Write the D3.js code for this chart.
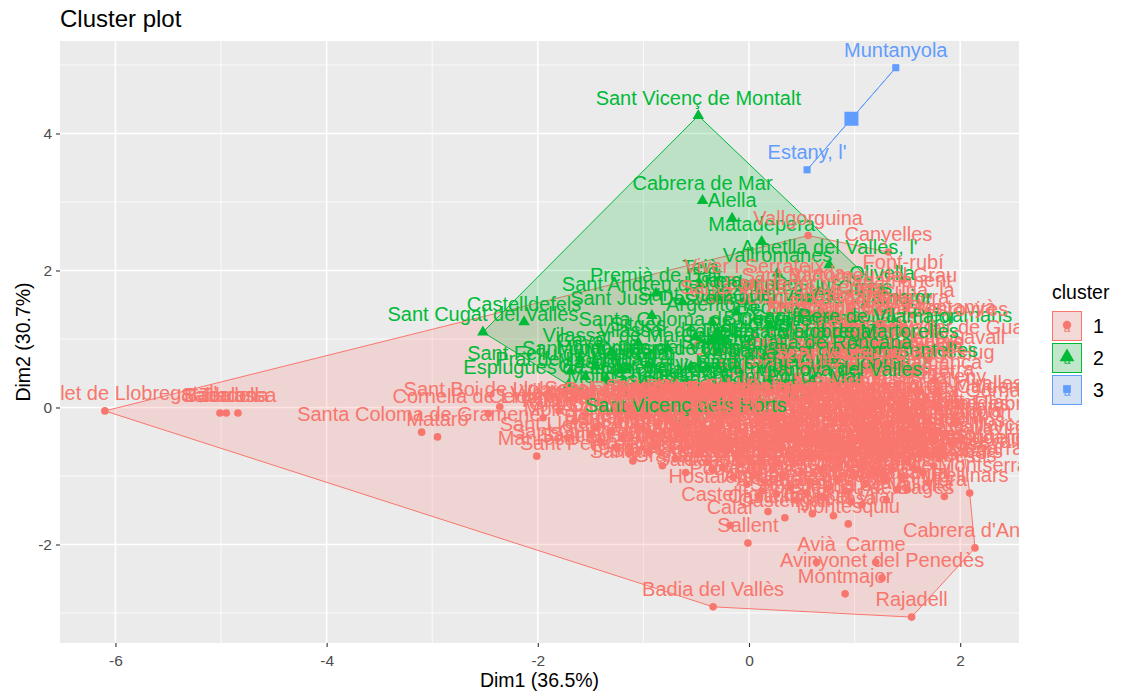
<!DOCTYPE html>
<html>
<head>
<meta charset="utf-8">
<script src="https://cdn.jsdelivr.net/npm/d3@7"></script>
<style>
  body { margin: 0; background: #ffffff; }
  svg { display: block; font-family: "Liberation Sans", Arial, sans-serif; }
</style>
</head>
<body>
<svg id="chart" width="1121" height="697"></svg>
<script>
// Municipalities projected on the first two principal dimensions, by k-means cluster.
// Each entry: [municipality, Dim1, Dim2]
const cluster1 = [
  ["Hospitalet de Llobregat, l'", -6.10, -0.05],
  ["Sabadell", -5.01, -0.08],
  ["Badalona", -4.95, -0.08],
  ["Terrassa", -4.84, -0.08],
  ["Santa Coloma de Gramenet", -3.10, -0.36],
  ["Mataró", -2.95, -0.43],
  ["Cornellà de Llobregat", -2.47, -0.09],
  ["Sant Boi de Llobregat", -2.36, 0.01],
  ["Manresa", -2.01, -0.71],
  ["Sant Adrià de Besòs", -1.12, -0.66],
  ["Santa Perpètua de Mogoda", -0.35, -0.90],
  ["Vallgorguina", 0.56, 2.51],
  ["Canyelles", 1.32, 2.27],
  ["Font-rubí", 1.46, 1.86],
  ["Sant Bartomeu del Grau", 0.95, 1.67],
  ["Llacuna, la", 1.49, 1.45],
  ["Sant Esteve Sesrovires", 1.47, 1.18],
  ["Sant Salvador de Guardiola", 1.90, 0.91],
  ["Sant Llorenç Savall", 1.61, 0.77],
  ["Castellet i la Gornal", 1.79, -0.01],
  ["Torre de Claramunt, la", 1.48, -0.18],
  ["Santa Maria d'Oló", 1.43, -0.33],
  ["Sant Feliu de Codines", 1.16, -0.52],
  ["Rellinars", 2.09, -1.25],
  ["Cabrera d'Anoia", 2.14, -2.05],
  ["Rajadell", 1.54, -3.06],
  ["Badia del Vallès", -0.34, -2.91],
  ["Avinyonet del Penedès", 1.26, -2.49],
  ["Carme", 1.20, -2.26],
  ["Avià", 0.64, -2.26],
  ["Montmajor", 0.91, -2.72],
  ["Sallent", -0.01, -1.98],
  ["Calaf", -0.18, -1.72],
  ["Montesquiu", 0.94, -1.70],
  ["Hostalets de Pierola, els", 0.26, -1.26],
  ["Sant Cebrià de Vallalta", 0.97, -1.38],
  ["Rubí", -1.95, -0.15],
  ["Viladecans", -1.80, -0.05],
  ["Granollers", -1.65, -0.20],
  ["Cerdanyola del Vallès", -1.55, -0.10],
  ["Mollet del Vallès", -1.45, -0.28],
  ["Vilanova i la Geltrú", -1.38, -0.02],
  ["Igualada", -1.30, -0.35],
  ["Vic", -1.22, -0.18],
  ["Montcada i Reixac", -1.15, -0.05],
  ["Ripollet", -1.05, -0.30],
  ["Barberà del Vallès", -0.98, -0.12],
  ["Martorell", -0.92, -0.40],
  ["Olesa de Montserrat", -0.85, -0.22],
  ["Esparreguera", -0.78, 0.00],
  ["Sant Andreu de la Barca", -0.72, -0.48],
  ["Pineda de Mar", -0.66, -0.30],
  ["Calella", -0.58, -0.55],
  ["Malgrat de Mar", -0.52, -0.20],
  ["Manlleu", -0.45, -0.38],
  ["Vilafranca del Penedès", -0.40, -0.05],
  ["Sant Pere de Ribes", -0.33, -0.62],
  ["Sant Joan de Vilatorrada", -0.28, -0.28],
  ["Sant Sadurní d'Anoia", -0.22, -0.45],
  ["Sant Vicenç de Castellet", -0.15, -0.12],
  ["Sant Celoni", -0.10, -0.70],
  ["Torelló", -0.05, -0.35],
  ["Canovelles", 0.02, -0.55],
  ["Franqueses del Vallès, les", 0.08, -0.20],
  ["Llagosta, la", 0.12, -0.75],
  ["Montmeló", 0.18, -0.40],
  ["Roca del Vallès, la", 0.24, -0.08],
  ["Garriga, la", 0.30, -0.60],
  ["Caldes de Montbui", 0.35, -0.30],
  ["Lliçà de Vall", 0.42, -0.82],
  ["Polinyà", 0.48, -0.15],
  ["Pallejà", 0.54, -0.50],
  ["Abrera", 0.60, -0.25],
  ["Palafolls", 0.66, -0.70],
  ["Tordera", 0.72, -0.05],
  ["Santa Susanna", 0.78, -0.42],
  ["Canet de Mar", 0.84, -0.85],
  ["Arenys de Mar", 0.90, -0.20],
  ["Sant Iscle de Vallalta", 0.96, -0.60],
  ["Cubelles", 1.02, -0.32],
  ["Gelida", 1.08, -0.78],
  ["Subirats", 1.14, -0.10],
  ["Santa Margarida i els Monjos", 1.20, -0.45],
  ["Sant Martí Sarroca", 1.26, -0.70],
  ["Olèrdola", 1.32, -0.25],
  ["Mediona", 1.38, -0.55],
  ["Torrelavit", 1.44, -0.05],
  ["Pacs del Penedès", 1.50, -0.80],
  ["Puigdàlber", 1.56, -0.40],
  ["Pontons", 1.62, -0.65],
  ["Vilobí del Penedès", 1.68, -0.20],
  ["Castellví de la Marca", 1.74, -0.50],
  ["Olesa de Bonesvalls", 1.80, -0.75],
  ["Sant Llorenç d'Hortons", -1.40, -0.50],
  ["Sant Quintí de Mediona", -1.25, -0.60],
  ["Sant Pere de Riudebitlles", -1.10, -0.78],
  ["Santa Fe del Penedès", -0.95, -0.65],
  ["Torrelles de Foix", -0.82, -0.85],
  ["Pla del Penedès, el", -0.70, -0.75],
  ["Granada, la", -0.60, -0.95],
  ["Cabanyes, les", -0.48, -0.68],
  ["Sant Cugat Sesgarrigues", -0.25, -0.88],
  ["Capellades", -0.15, -1.02],
  ["Masquefa", -0.08, -0.82],
  ["Piera", 0.05, -0.98],
  ["Òdena", 0.15, -1.10],
  ["Vilanova del Camí", 0.22, -0.90],
  ["Santa Margarida de Montbui", 0.32, -1.02],
  ["Pobla de Claramunt, la", 0.40, -1.15],
  ["Castellolí", 0.50, -0.95],
  ["Bruc, el", 0.58, -1.08],
  ["Collbató", 0.68, -0.92],
  ["Jorba", 0.75, -1.18],
  ["Argençola", 0.85, -1.05],
  ["Copons", 0.92, -1.22],
  ["Rubió", 1.00, -0.98],
  ["Orpí", 1.10, -1.12],
  ["Sant Martí de Tous", 1.18, -0.92],
  ["Bellprat", 1.28, -1.05],
  ["Montmaneu", 1.36, -0.90],
  ["Pujalt", 1.45, -1.00],
  ["Veciana", 1.55, -0.88],
  ["Prats de Rei, els", 1.65, -0.95],
  ["Calonge de Segarra", 1.75, -0.85],
  ["Sant Martí Sesgueioles", 1.85, -0.70],
  ["Sant Pere Sallavinera", 1.92, -0.55],
  ["Vallbona d'Anoia", 1.70, -0.30],
  ["Castellfollit de Riubregós", 1.95, -0.20],
  ["Santa Maria de Miralles", 1.60, 0.10],
  ["Aguilar de Segarra", 0.55, -1.25],
  ["Artés", 0.10, -1.30],
  ["Avinyó", 0.45, -1.35],
  ["Balsareny", 0.70, -1.30],
  ["Callús", 0.12, -1.22],
  ["Cardona", -0.02, -1.12],
  ["Castellbell i el Vilar", 0.60, -1.55],
  ["Castellfollit del Boix", 0.18, -1.52],
  ["Castellgalí", 0.34, -1.61],
  ["Castellnou de Bages", 1.07, -1.42],
  ["Fonollosa", 0.80, -1.58],
  ["Gaià", 1.30, -1.35],
  ["Marganell", 1.50, -1.20],
  ["Monistrol de Montserrat", 1.70, -1.10],
  ["Mura", 1.85, -1.30],
  ["Navarcles", -0.50, -0.15],
  ["Navàs", -0.70, -0.25],
  ["Pont de Vilomara i Rocafort, el", 0.02, 0.02],
  ["Sant Feliu Sasserra", 1.30, 0.30],
  ["Sant Fruitós de Bages", -1.00, 0.02],
  ["Sant Mateu de Bages", 1.15, 0.55],
  ["Santpedor", 0.20, 1.55],
  ["Súria", -1.20, -0.45],
  ["Talamanca", 1.75, 0.40],
  ["Bagà", 1.10, 0.15],
  ["Berga", -1.50, -0.40],
  ["Borredà", 1.40, 0.35],
  ["Capolat", 1.65, -0.10],
  ["Casserres", 0.55, 0.10],
  ["Castell de l'Areny", 1.25, 0.05],
  ["Castellar de n'Hug", 1.55, 0.55],
  ["Castellar del Riu", 1.35, 0.75],
  ["Cercs", 0.90, 0.20],
  ["Espunyola, l'", 1.45, -0.70],
  ["Fígols", 1.20, 0.45],
  ["Gironella", -0.90, -0.55],
  ["Gisclareny", 1.80, 0.20],
  ["Gósol", 1.05, 0.40],
  ["Guardiola de Berguedà", 0.70, 0.25],
  ["Montclar", 1.60, -0.30],
  ["Nou de Berguedà, la", 0.95, 0.60],
  ["Olvan", 0.40, 0.30],
  ["Pobla de Lillet, la", 0.75, 0.65],
  ["Puig-reig", -0.60, 0.05],
  ["Quar, la", 1.50, 0.90],
  ["Sagàs", 1.10, 0.85],
  ["Saldes", 0.80, 1.05],
  ["Sant Jaume de Frontanyà", 1.25, 1.20],
  ["Sant Julià de Cerdanyola", 0.50, 1.35],
  ["Santa Maria de Merlès", 0.30, 1.50],
  ["Vallcebre", 0.95, 1.40],
  ["Vilada", 0.65, 1.70],
  ["Viver i Serrateix", 0.05, 1.80],
  ["Alpens", 1.35, -0.85],
  ["Balenyà", -0.30, 0.05],
  ["Brull, el", 1.15, -0.25],
  ["Calldetenes", 0.25, 0.05],
  ["Centelles", -0.12, -0.22],
  ["Collsuspina", 1.40, -1.20],
  ["Folgueroles", 0.55, -0.35],
  ["Gurb", 0.85, -0.15],
  ["Lluçà", 1.65, -0.55],
  ["Malla", 1.00, -0.50],
  ["Masies de Roda, les", 0.15, -0.65],
  ["Masies de Voltregà, les", -0.20, -0.60],
  ["Olost", 0.45, -0.55],
  ["Orís", 1.15, -0.65],
  ["Oristà", 1.30, -0.45],
  ["Perafita", 1.05, -0.85],
  ["Prats de Lluçanès", -0.40, -0.80],
  ["Roda de Ter", -0.65, -0.40],
  ["Rupit i Pruit", 1.55, -0.15],
  ["Sant Agustí de Lluçanès", 1.70, -0.70],
  ["Sant Boi de Lluçanès", 1.25, -0.95],
  ["Sant Hipòlit de Voltregà", -0.45, -0.25],
  ["Sant Julià de Vilatorta", -0.05, -0.05],
  ["Sant Martí d'Albars", 1.60, -0.90],
  ["Sant Martí de Centelles", 0.65, -0.55],
  ["Sant Pere de Torelló", 0.30, -0.45],
  ["Sant Quirze de Besora", 0.00, -0.75],
  ["Sant Sadurní d'Osormort", 1.45, -0.35],
  ["Sant Vicenç de Torelló", 0.10, -0.35],
  ["Santa Cecília de Voltregà", 0.75, -0.75],
  ["Santa Eugènia de Berga", 0.50, -0.75],
  ["Santa Eulàlia de Riuprimer", 0.90, -0.65],
  ["Santa Maria de Besora", 1.35, -0.65],
  ["Santa Maria de Corcó", 0.25, -0.80],
  ["Seva", 0.60, -0.10],
  ["Sobremunt", 1.75, -0.40],
  ["Sora", 1.50, -0.60],
  ["Taradell", -0.25, -0.15],
  ["Tavèrnoles", 1.05, -0.05],
  ["Tavertet", 1.62, 0.25],
  ["Tona", -0.35, -0.35],
  ["Vilanova de Sau", 1.20, -0.15],
  ["Gallifa", 1.40, 0.60],
  ["Ullastrell", 0.15, 0.05],
  ["Vacarisses", -0.10, 0.00],
  ["Viladecavalls", -0.70, 0.05],
  ["Aiguafreda", 0.60, 0.55],
  ["Campins", 1.00, 0.35],
  ["Cànoves i Samalús", 1.20, 0.65],
  ["Figaró-Montmany", 0.45, 0.45],
  ["Fogars de Montclús", 1.00, 1.20],
  ["Granera", 1.55, 1.35],
  ["Gualba", 0.70, 0.95],
  ["Montseny", 1.25, 0.95],
  ["Sant Esteve de Palautordera", 0.35, 0.05],
  ["Santa Maria de Palautordera", -0.15, 0.05],
  ["Tagamanent", 1.40, 1.60],
  ["Vilalba Sasserra", 0.85, 1.30],
  ["Calders", 1.70, 0.70],
  ["Castellcir", 1.05, 1.00],
  ["Castellterçol", 0.55, 0.80],
  ["Moià", -0.55, -0.05],
  ["Monistrol de Calders", 1.75, 0.05],
  ["Sant Quirze Safaja", 0.80, 0.45],
  ["Palma de Cervelló, la", -0.85, 0.00],
  ["Castellví de Rosanes", 0.35, 0.60]
];

const cluster2 = [
  ["Sant Vicenç de Montalt", -0.48, 4.26],
  ["Cabrera de Mar", -0.44, 3.02],
  ["Alella", -0.16, 2.76],
  ["Matadepera", 0.12, 2.42],
  ["Ametlla del Vallès, l'", 0.76, 2.08],
  ["Vallromanes", 0.27, 1.96],
  ["Olivella", 1.26, 1.70],
  ["Sant Andreu de Llavaneres", -0.63, 1.54],
  ["Sant Just Desvern", -0.92, 1.34],
  ["Sant Cugat del Vallès", -2.52, 1.10],
  ["Castelldefels", -2.13, 1.25],
  ["Esplugues de Llobregat", -1.71, 0.33],
  ["Sant Feliu de Llobregat", -1.69, 0.53],
  ["Gavà", -1.60, 0.72],
  ["Santa Coloma de Cervelló", -0.51, 1.03],
  ["Vilassar de Dalt", -0.77, 0.87],
  ["Premià de Mar", -0.79, 0.26],
  ["Sant Vicenç dels Horts", -0.60, -0.22],
  ["Sant Quirze del Vallès", -0.12, 1.39],
  ["Sant Pere de Vilamajor", 0.99, 1.07],
  ["Sant Fost de Campsentelles", 0.98, 0.58],
  ["Palau-solità i Plegamans", 1.45, 1.09],
  ["Premià de Dalt", -0.88, 1.67],
  ["Teià", -0.46, 1.79],
  ["Tiana", -0.30, 1.60],
  ["Montgat", -1.20, 0.55],
  ["Cervelló", -0.30, 0.80],
  ["Begues", 0.20, 1.20],
  ["Vallirana", -0.10, 0.55],
  ["Corbera de Llobregat", -0.55, 0.60],
  ["Torrelles de Llobregat", 0.30, 0.85],
  ["Sant Antoni de Vilamajor", 0.70, 1.35],
  ["Santa Eulàlia de Ronçana", 0.45, 0.70],
  ["Bigues i Riells", 0.35, 1.05],
  ["Lliçà d'Amunt", -0.20, 0.35],
  ["Argentona", -0.35, 1.25],
  ["Cabrils", -0.05, 1.55],
  ["Vilassar de Mar", -1.30, 0.80],
  ["Masnou, el", -1.35, 0.42],
  ["Sitges", -1.05, 0.95],
  ["Castellar del Vallès", -1.00, 0.35],
  ["Dosrius", 0.55, 1.55],
  ["Òrrius", 1.10, 1.50],
  ["Santa Maria de Martorelles", 0.85, 0.85],
  ["Martorelles", 0.10, 0.10],
  ["Molins de Rei", -1.15, 0.20],
  ["Sant Joan Despí", -1.45, 0.60],
  ["Llinars del Vallès", 0.20, 0.40],
  ["Caldes d'Estrac", 0.65, 0.95],
  ["Arenys de Munt", 0.15, 0.75],
  ["Cardedeu", -0.45, 0.30],
  ["Prat de Llobregat, el", -1.55, 0.45],
  ["Sant Climent de Llobregat", 0.60, 0.40],
  ["Castellbisbal", -0.85, 0.15],
  ["Papiol, el", 0.00, 0.95],
  ["Sant Pol de Mar", 0.40, 0.20],
  ["Vilanova del Vallès", 0.85, 0.30],
  ["Montornès del Vallès", -0.95, 0.62],
  ["Parets del Vallès", -0.30, 0.10]
];

const cluster3 = [
  ["Muntanyola", 1.39, 4.96],
  ["Estany, l'", 0.55, 3.47]
];

const clusterIds = ["1", "2", "3"];
const clusterColors = ["#F8766D", "#00BA38", "#619CFF"];
const xTicks = [-6, -4, -2, 0, 2];
const xMinor = [-5, -3, -1, 1];
const yTicks = [-2, 0, 2, 4];
const yMinor = [-3, -1, 1, 3, 5];
const chartTitle = "Cluster plot";
const xTitle = "Dim1 (36.5%)";
const yTitle = "Dim2 (30.7%)";
const legendTitle = "cluster";

const svg = d3.select("#chart");
const panel = { left: 60, top: 41, right: 1019, bottom: 643 };

const x = d3.scaleLinear().domain([-6.525, 2.557]).range([panel.left, panel.right]);
const y = d3.scaleLinear().domain([-3.438, 5.350]).range([panel.bottom, panel.top]);

const symbolTypes = [d3.symbolCircle, d3.symbolTriangle, d3.symbolSquare];
const pointSizes = [46, 58, 50];
const centerSizes = [190, 230, 196];

const groups = [cluster1, cluster2, cluster3];
const allPoints = [];
groups.forEach((g, i) => g.forEach(d => allPoints.push({ name: d[0], dx: d[1], dy: d[2], c: i })));
allPoints.sort((a, b) => a.name.localeCompare(b.name, "ca"));

// panel background and grid
svg.append("rect")
  .attr("x", panel.left).attr("y", panel.top)
  .attr("width", panel.right - panel.left).attr("height", panel.bottom - panel.top)
  .attr("fill", "#EBEBEB");

const grid = svg.append("g");
grid.selectAll(".xminor").data(xMinor).join("line")
  .attr("x1", d => x(d)).attr("x2", d => x(d))
  .attr("y1", panel.top).attr("y2", panel.bottom)
  .attr("stroke", "#fff").attr("stroke-width", 0.8);
grid.selectAll(".yminor").data(yMinor).join("line")
  .attr("y1", d => y(d)).attr("y2", d => y(d))
  .attr("x1", panel.left).attr("x2", panel.right)
  .attr("stroke", "#fff").attr("stroke-width", 0.8);
grid.selectAll(".xmajor").data(xTicks).join("line")
  .attr("x1", d => x(d)).attr("x2", d => x(d))
  .attr("y1", panel.top).attr("y2", panel.bottom)
  .attr("stroke", "#fff").attr("stroke-width", 1.6);
grid.selectAll(".ymajor").data(yTicks).join("line")
  .attr("y1", d => y(d)).attr("y2", d => y(d))
  .attr("x1", panel.left).attr("x2", panel.right)
  .attr("stroke", "#fff").attr("stroke-width", 1.6);

svg.append("clipPath").attr("id", "panelClip")
  .append("rect")
  .attr("x", panel.left).attr("y", panel.top)
  .attr("width", panel.right - panel.left).attr("height", panel.bottom - panel.top);

const plot = svg.append("g").attr("clip-path", "url(#panelClip)");

// convex hull of each cluster
groups.forEach((g, i) => {
  const pts = g.map(d => [x(d[1]), y(d[2])]);
  const hull = pts.length > 2 ? d3.polygonHull(pts) : pts;
  plot.append("path")
    .attr("d", "M" + hull.map(p => p.join(",")).join("L") + "Z")
    .attr("fill", clusterColors[i]).attr("fill-opacity", 0.2)
    .attr("stroke", clusterColors[i]).attr("stroke-width", 1);
});

// observations
plot.append("g").selectAll("path").data(allPoints).join("path")
  .attr("transform", d => `translate(${x(d.dx)},${y(d.dy)})`)
  .attr("d", d => d3.symbol().type(symbolTypes[d.c]).size(pointSizes[d.c])())
  .attr("fill", d => clusterColors[d.c]);

// labels
plot.append("g").selectAll("text").data(allPoints).join("text")
  .attr("x", d => x(d.dx))
  .attr("y", d => y(d.dy) - 11)
  .attr("text-anchor", "middle")
  .attr("font-size", 20)
  .attr("fill", d => clusterColors[d.c])
  .text(d => d.name);

// cluster centres
groups.forEach((g, i) => {
  const cx = d3.mean(g, d => d[1]);
  const cy = d3.mean(g, d => d[2]);
  plot.append("path")
    .attr("transform", `translate(${x(cx)},${y(cy)})`)
    .attr("d", d3.symbol().type(symbolTypes[i]).size(centerSizes[i])())
    .attr("fill", clusterColors[i]);
});

// axes
const xAxis = svg.append("g").attr("transform", `translate(0,${panel.bottom})`)
  .call(d3.axisBottom(x).tickValues(xTicks).tickSize(4).tickPadding(4).tickFormat(d3.format("d")));
const yAxis = svg.append("g").attr("transform", `translate(${panel.left},0)`)
  .call(d3.axisLeft(y).tickValues(yTicks).tickSize(4).tickPadding(4).tickFormat(d3.format("d")));
[xAxis, yAxis].forEach(a => {
  a.select(".domain").remove();
  a.selectAll(".tick line").attr("stroke", "#333333").attr("stroke-width", 1.1);
  a.selectAll(".tick text").attr("fill", "#4D4D4D").attr("font-size", 15.5)
    .attr("font-family", "'Liberation Sans', Arial, sans-serif");
});
xAxis.selectAll(".tick text").attr("dy", "0.95em");
yAxis.selectAll(".tick text").text(d => d < 0 ? "-" + Math.abs(d) : d);
xAxis.selectAll(".tick text").text(d => d < 0 ? "-" + Math.abs(d) : d);

// titles
svg.append("text").attr("x", panel.left).attr("y", 27)
  .attr("font-size", 24).attr("fill", "#000").text(chartTitle);
svg.append("text").attr("x", (panel.left + panel.right) / 2).attr("y", 687)
  .attr("text-anchor", "middle").attr("font-size", 19.5).attr("fill", "#000").text(xTitle);
svg.append("text").attr("transform", `translate(30,${(panel.top + panel.bottom) / 2}) rotate(-90)`)
  .attr("text-anchor", "middle").attr("font-size", 19.5).attr("fill", "#000").text(yTitle);

// legend
const lg = svg.append("g").attr("transform", "translate(1052,0)");
lg.append("text").attr("x", 0).attr("y", 299).attr("font-size", 19.5).attr("fill", "#000").text(legendTitle);
const keySize = 30, keyTop = 311, keyStep = 32;
const legendSizes = [55, 95, 60];
clusterIds.forEach((id, i) => {
  const k = lg.append("g").attr("transform", `translate(0,${keyTop + i * keyStep})`);
  k.append("rect").attr("width", keySize).attr("height", keySize).attr("fill", "#F2F2F2");
  k.append("rect").attr("x", 0.5).attr("y", 0.5).attr("width", keySize - 1).attr("height", keySize - 1)
    .attr("fill", clusterColors[i]).attr("fill-opacity", 0.2)
    .attr("stroke", clusterColors[i]).attr("stroke-width", 1);
  k.append("text").attr("x", keySize / 2).attr("y", keySize / 2 + 6)
    .attr("text-anchor", "middle").attr("font-size", 12).attr("fill", clusterColors[i]).text("a");
  k.append("path").attr("transform", `translate(${keySize / 2},${keySize / 2 - 1})`)
    .attr("d", d3.symbol().type(symbolTypes[i]).size(legendSizes[i])())
    .attr("fill", clusterColors[i]);
  k.append("text").attr("x", keySize + 11).attr("y", keySize / 2 + 7)
    .attr("font-size", 19.5).attr("fill", "#000").text(id);
});
</script>
</body>
</html>
